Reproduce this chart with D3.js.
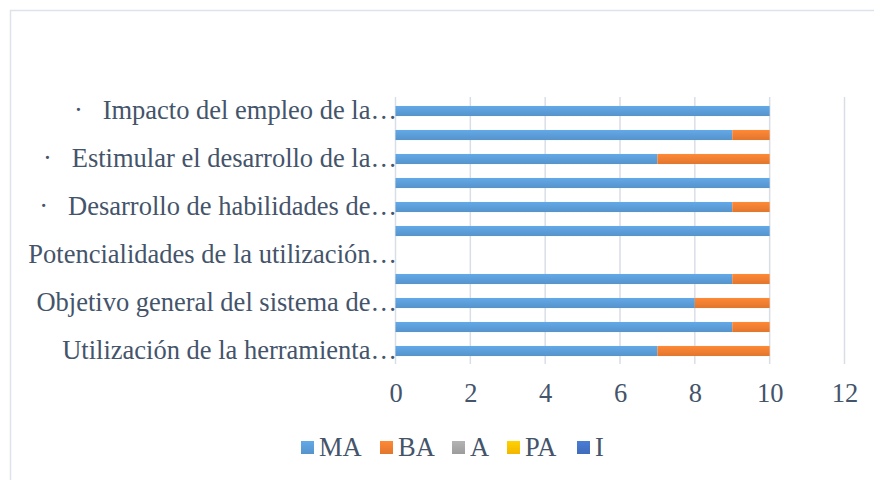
<!DOCTYPE html>
<html>
<head>
<meta charset="utf-8">
<script src="https://cdn.jsdelivr.net/npm/d3@7"></script>
<style>
  body { margin: 0; background: #fff; }
  svg { display: block; }
</style>
</head>
<body>
<div id="chart"></div>
<script>
// categories from bottom to top; every other one is not labelled in the original
const categories = [
  "Utilización de la herramienta…", "",
  "Objetivo general del sistema de…", "",
  "Potencialidades de la utilización…", "",
  "·\u00a0\u00a0\u00a0Desarrollo de habilidades de…", "",
  "·\u00a0\u00a0\u00a0Estimular el desarrollo de la…", "",
  "·\u00a0\u00a0\u00a0Impacto del empleo de la…"
]
const seriesNames = ["MA", "BA", "A", "PA", "I"]
const MA = [7, 9, 8, 9, 0, 10, 9, 10, 7, 9, 10]
const BA = [3, 1, 2, 1, 0, 0, 1, 0, 3, 1, 0]
const A  = [0, 0, 0, 0, 0, 0, 0, 0, 0, 0, 0]
const PA = [0, 0, 0, 0, 0, 0, 0, 0, 0, 0, 0]
const I  = [0, 0, 0, 0, 0, 0, 0, 0, 0, 0, 0]
const xTicks = [0, 2, 4, 6, 8, 10, 12]
const colors = ["#5b9bd5", "#ed7d31", "#a5a5a5", "#ffc000", "#4472c4"]

const width = 874, height = 480
const margin = {top: 99, right: 30, bottom: 117, left: 395.5}
const fontFamily = "'Liberation Serif', 'Times New Roman', serif"
const fontSize = "26.5px"

const rows = categories.map((c, i) => ({idx: i, label: c, MA: MA[i], BA: BA[i], A: A[i], PA: PA[i], I: I[i]}))

const series = d3.stack().keys(seriesNames)(rows)

const x = d3.scaleLinear()
  .domain([0, 12])
  .range([margin.left, 844.5])

const y = d3.scaleBand()
  .domain(rows.map(d => d.idx).reverse())
  .range([margin.top, height - margin.bottom])
  .paddingInner(0.58)
  .paddingOuter(0.29)

const svg = d3.select("#chart").append("svg")
  .attr("width", width)
  .attr("height", height)
  .style("font-family", fontFamily)

// gradients, lighter on top like the original
const defs = svg.append("defs")
seriesNames.forEach((k, i) => {
  const c = d3.color(colors[i])
  const g = defs.append("linearGradient")
    .attr("id", "grad" + k)
    .attr("x1", 0).attr("y1", 0).attr("x2", 0).attr("y2", 1)
  g.append("stop").attr("offset", "0%").attr("stop-color", c.brighter(0.25))
  g.append("stop").attr("offset", "100%").attr("stop-color", c.darker(0.15))
})

// chart border
svg.append("path")
  .attr("d", `M10.5,${height} V10.5 H${width}`)
  .attr("fill", "none")
  .attr("stroke", "#dde3ec")
  .attr("stroke-width", 1.5)

// grid
svg.append("g")
  .selectAll("line")
  .data(xTicks)
  .join("line")
  .attr("x1", d => x(d)).attr("x2", d => x(d))
  .attr("y1", 97).attr("y2", 364)
  .attr("stroke", "#d9dee6")
  .attr("stroke-width", 1.5)

// bars
svg.append("g")
  .selectAll("g")
  .data(series)
  .join("g")
  .attr("fill", d => `url(#grad${d.key})`)
  .selectAll("rect")
  .data(d => d.filter(v => v[1] > v[0]))
  .join("rect")
  .attr("x", d => x(d[0]))
  .attr("y", d => y(d.data.idx))
  .attr("width", d => x(d[1]) - x(d[0]))
  .attr("height", y.bandwidth())

// x axis labels
svg.append("g")
  .attr("transform", "translate(0,393)")
  .call(d3.axisBottom(x).tickValues(xTicks).tickSize(0).tickPadding(0))
  .call(g => g.select(".domain").remove())
  .call(g => g.selectAll("text")
    .attr("dy", "0.33em")
    .attr("fill", "#44546a")
    .style("font-size", fontSize)
    .style("font-family", fontFamily))

// y axis labels
svg.append("g")
  .attr("transform", "translate(397,0)")
  .call(d3.axisLeft(y).tickSize(0).tickPadding(0).tickFormat(i => categories[i]))
  .call(g => g.select(".domain").remove())
  .call(g => g.selectAll("text")
    .attr("dy", "0.3em")
    .attr("fill", "#44546a")
    .style("font-size", fontSize)
    .style("font-family", fontFamily))

// legend
const legendX = [301, 380, 452, 507, 577]
const legend = svg.append("g")
  .selectAll("g")
  .data(seriesNames)
  .join("g")
  .attr("transform", (d, i) => `translate(${legendX[i]},441)`)
legend.append("rect")
  .attr("width", 13).attr("height", 13)
  .attr("fill", d => `url(#grad${d})`)
legend.append("text")
  .attr("x", 18).attr("y", 15)
  .attr("fill", "#44546a")
  .style("font-size", fontSize)
  .text(d => d)
</script>
</body>
</html>
